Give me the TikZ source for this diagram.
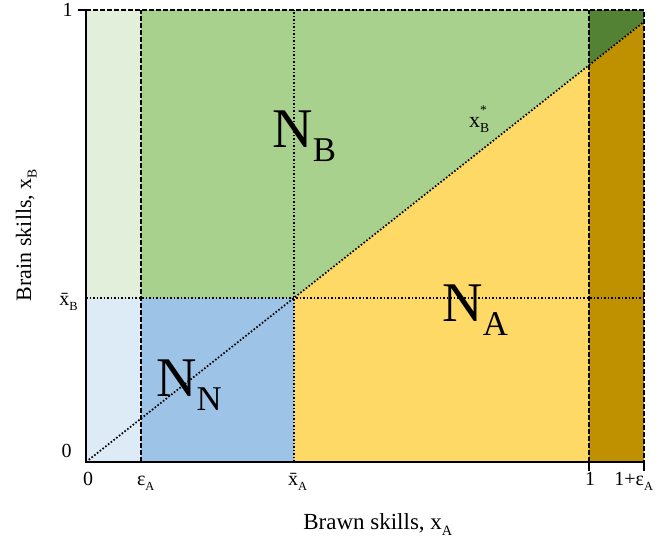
\documentclass[tikz,border=0pt]{standalone}
\usepackage{fontspec}
\setmainfont{Liberation Serif}
\usepackage{graphicx}
\usetikzlibrary{calc}
\definecolor{PaleGreen}{HTML}{E2EFDA}
\definecolor{MidGreen}{HTML}{A9D18E}
\definecolor{DeepGreen}{HTML}{548235}
\definecolor{PaleBlue}{HTML}{DDEBF7}
\definecolor{MidBlue}{HTML}{9DC3E6}
\definecolor{Butter}{HTML}{FFD966}
\definecolor{Gold}{HTML}{BF9000}
% lowered, shrunk subscript in text mode
\newcommand{\dn}[1]{\raisebox{-0.25em}{\scalebox{0.62}{#1}}}

\begin{document}
\begin{tikzpicture}[x=503pt,y=452pt,
  dashline/.style={line width=1.7pt, dash pattern=on 4.5pt off 2.5pt},
  dotline/.style={line width=1.7pt, dash pattern=on 1.6pt off 1.9pt},
  regionlabel/.style={font=\fontsize{56}{60}\selectfont, inner sep=0pt, anchor=base west},
  ticklabel/.style={font=\fontsize{20}{22}\selectfont, inner sep=0pt}]
  \useasboundingbox (-0.171,-0.177) rectangle (1.153,1.022);
  % thresholds
  \def\eA{0.109}
  \def\xa{0.4135}
  \def\xb{0.363}
  \pgfmathsetmacro\slope{\xb/\xa}
  \pgfmathsetmacro\R{1+\eA}
  \pgfmathsetmacro\yR{\slope*\R}
  \pgfmathsetmacro\yone{\slope}
  \coordinate (origin) at (0,0);
  \coordinate (cut) at (\xa,\xb);
  \coordinate (edge) at (1,\yone);
  \coordinate (far) at (\R,\yR);
  % regions
  \fill[PaleGreen] (0,\xb) rectangle (\eA,1);
  \fill[PaleBlue] (0,0) rectangle (\eA,\xb);
  \fill[MidBlue] (\eA,0) rectangle (cut);
  \fill[MidGreen] (\eA,\xb) -- (cut) -- (edge) -- (1,1) -- (\eA,1) -- cycle;
  \fill[Butter] (\xa,0) -- (1,0) -- (edge) -- (cut) -- cycle;
  \fill[DeepGreen] (edge) -- (1,1) -- (\R,1) -- (far) -- cycle;
  \fill[Gold] (1,0) -- (edge) -- (far) -- (\R,0) -- cycle;
  % region names
  \node[regionlabel] (nb) at (0.370,0.695) {N\dn{B}};
  \node[regionlabel] (na) at (0.708,0.310) {N\dn{A}};
  \node[regionlabel] (nn) at (0.139,0.144) {N\dn{N}};
  \node[font=\fontsize{22}{24}\selectfont, inner sep=0pt, anchor=base west] (xstar) at (0.761,0.741)
    {x\rlap{\raisebox{0.55em}{\scalebox{0.6}{*}}}\dn{B}};
  % boundaries
  \draw[dashline] (\eA,0) -- (\eA,1);
  \draw[dashline] (1,0) -- (1,1);
  \draw[dashline] (0,1) -- (\R,1) -- (\R,0);
  \draw[dotline] (\xa,0) -- (\xa,1);
  \draw[dotline] (0,\xb) -- (\R,\xb);
  \draw[dotline] (origin) -- (far);
  % axes and ticks
  \draw[line width=2pt] (-0.016,1) -- (0,1) -- (origin) -- (\R,0);
  \draw[line width=2pt] (1,0) -- (1,-0.02) (\R,0) -- (\R,-0.02);
  % tick labels
  \node[ticklabel, anchor=base] (x0) at (0.004,-0.051) {0};
  \node[ticklabel, anchor=base west] (xe) at (\eA-0.008,-0.051) {ε\dn{A}};
  \node[ticklabel, anchor=base west] (xbar) at (\xa-0.012,-0.051) {\=x\dn{A}};
  \node[ticklabel, anchor=base] (x1) at (1.002,-0.051) {1};
  \node[ticklabel, anchor=base west] (xR) at (1.050,-0.051) {1+ε\dn{A}};
  \node[ticklabel, anchor=base east] (y1) at (-0.026,0.985) {1};
  \node[ticklabel, anchor=base east] (ybar) at (-0.016,0.347) {\=x\dn{B}};
  \node[ticklabel, anchor=base east] (y0) at (-0.028,0.009) {0};
  % axis titles
  \node[font=\fontsize{23}{25}\selectfont, inner sep=0pt, anchor=base] (xtitle) at (0.58,-0.150) {Brawn skills, x\dn{A}};
  \node[font=\fontsize{22}{24}\selectfont, inner sep=0pt, anchor=base, rotate=90] (ytitle) at (-0.109,0.502) {Brain skills, x\dn{B}};
\end{tikzpicture}
\end{document}
